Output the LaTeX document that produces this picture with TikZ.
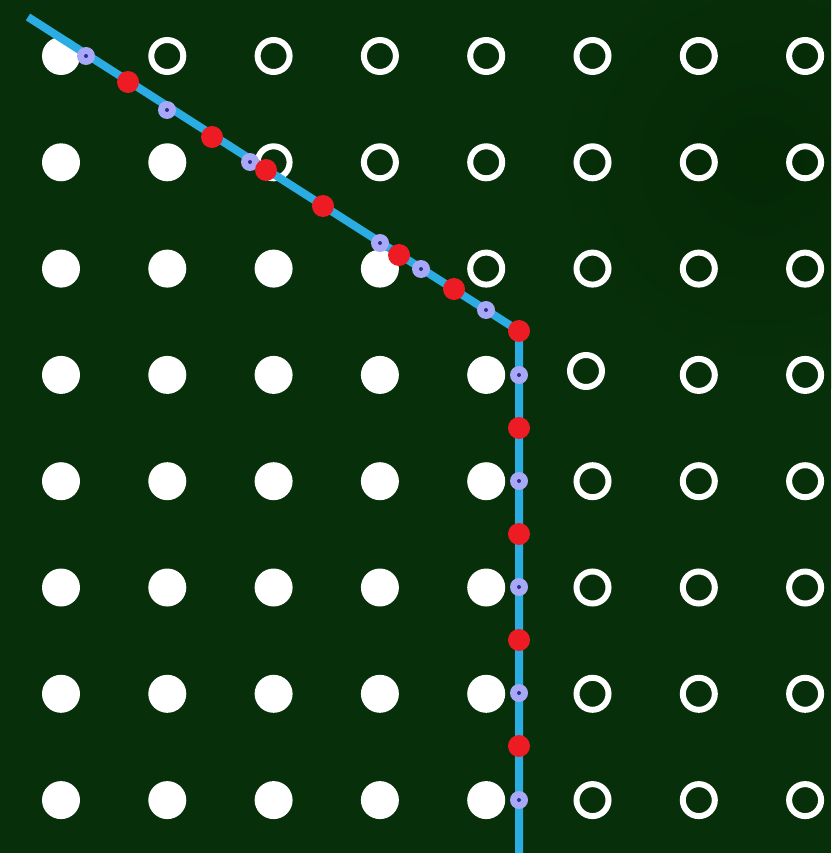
\documentclass[tikz,border=0pt]{standalone}
\usetikzlibrary{positioning}
\definecolor{fieldgreen}{HTML}{07300A}
\definecolor{fielddark}{HTML}{052805}
\definecolor{trackblue}{HTML}{2BACE2}
\definecolor{hitred}{HTML}{ED1C24}
\definecolor{probelav}{HTML}{A8A8F8}
\definecolor{probecore}{HTML}{2E2E8C}
\tikzset{
  fullpeg/.style={circle, fill=white, inner sep=0pt, minimum size=38pt},
  ringpeg/.style={circle, draw=white, line width=6pt, inner sep=0pt, minimum size=32pt},
  trackline/.style={draw=trackblue, line width=8pt},
  hitdot/.style={circle, fill=hitred, inner sep=0pt, minimum size=22pt},
  probedot/.style={circle, fill=probelav, inner sep=0pt, minimum size=18pt},
  probecoredot/.style={circle, fill=probecore, inner sep=0pt, minimum size=4pt}
}
\begin{document}
\begin{tikzpicture}[x=1pt, y=-1pt]
  % field
  \useasboundingbox (0,0) rectangle (831,853);
  \clip (0,0) rectangle (831,853);
  \fill[fieldgreen] (0,0) rectangle (831,853);
  \shade[inner color=fielddark, outer color=fieldgreen] (760,160) circle (240);
  % pegs: filled ones count per row
  \foreach \r/\n in {0/1,1/2,2/4,3/5,4/5,5/5,6/5,7/5} {
    \foreach \c in {0,...,7} {
      \pgfmathsetmacro{\px}{61+106.3*\c}
      \pgfmathsetmacro{\py}{56+106.3*\r}
      \ifnum\c<\n
        \node[fullpeg] (peg-\r-\c) at (\px,\py) {};
      \else
        \ifnum\r\c=35 \else
          \node[ringpeg] (peg-\r-\c) at (\px,\py) {};
        \fi
      \fi
    }
  }
  \node[ringpeg] (peg-3-5) at (586,371) {};
  % track
  \coordinate (entry) at (28,17);
  \coordinate (bend) at (519,331);
  \coordinate (exit) at (519,853);
  \draw[trackline] (entry) -- (bend) -- (exit);
  % probes
  \foreach \x/\y [count=\i] in {86/56,167/110,250/162,380/243,421/269,486/310,
      519/375,519/481,519/587,519/693,519/800} {
    \node[probedot] (probe-\i) at (\x,\y) {};
    \node[probecoredot] at (probe-\i) {};
  }
  % hits
  \foreach \x/\y [count=\i] in {128/82,212/137,266/170,323/206,399/255,454/289,
      519/331,519/428,519/534,519/640,519/746} {
    \node[hitdot] (hit-\i) at (\x,\y) {};
  }
\end{tikzpicture}
\end{document}
